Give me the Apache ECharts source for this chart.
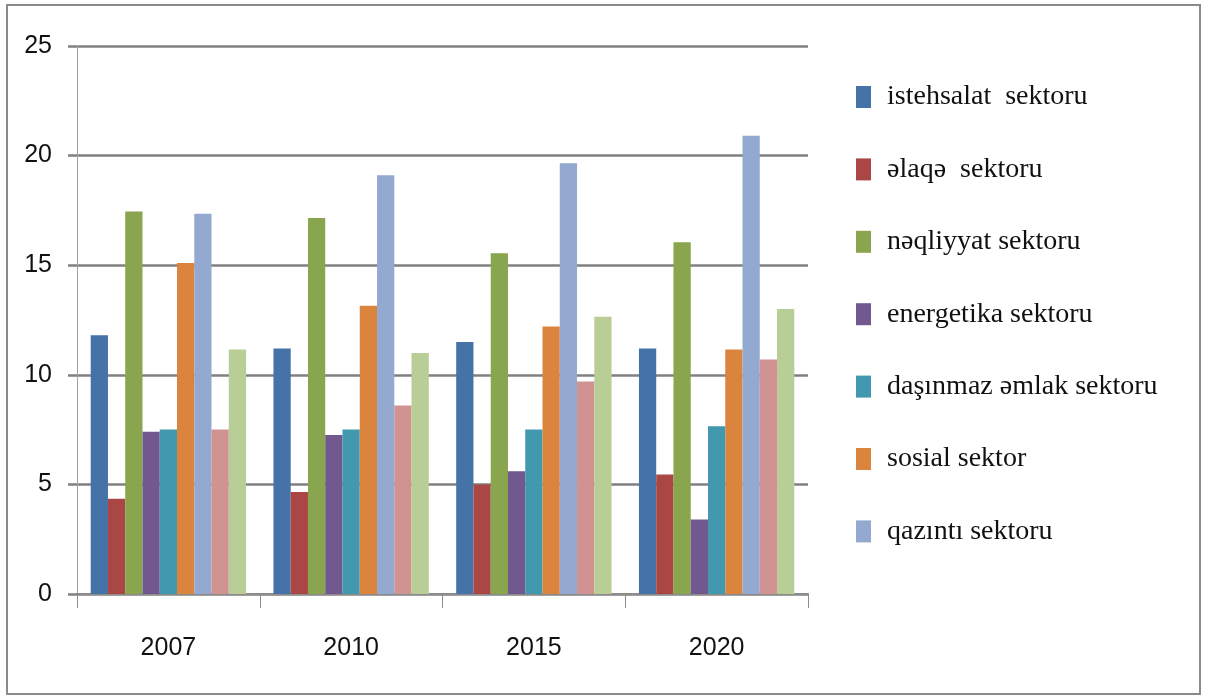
<!DOCTYPE html>
<html>
<head>
<meta charset="utf-8">
<script src="https://cdn.jsdelivr.net/npm/echarts@6/dist/echarts.min.js"></script>
<style>html,body{margin:0;padding:0;background:#fff;}#c{width:1208px;height:696px;}</style>
</head>
<body>
<div id="c"></div>
<script>
const years = ['2007', '2010', '2015', '2020'];
const seriesNames = ['istehsalat  sektoru', 'əlaqə  sektoru', 'nəqliyyat sektoru', 'energetika sektoru', 'daşınmaz əmlak sektoru', 'sosial sektor', 'qazıntı sektoru', 'seriya 8', 'seriya 9'];
const legendNames = ['istehsalat  sektoru', 'əlaqə  sektoru', 'nəqliyyat sektoru', 'energetika sektoru', 'daşınmaz əmlak sektoru', 'sosial sektor', 'qazıntı sektoru'];
const istehsalat = [11.8, 11.2, 11.5, 11.2];
const elaqe = [4.35, 4.65, 5.0, 5.45];
const neqliyyat = [17.45, 17.15, 15.55, 16.05];
const energetika = [7.4, 7.25, 5.6, 3.4];
const dasinmaz = [7.5, 7.5, 7.5, 7.65];
const sosial = [15.1, 13.15, 12.2, 11.15];
const qazinti = [17.35, 19.1, 19.65, 20.9];
const seriya8 = [7.5, 8.6, 9.7, 10.7];
const seriya9 = [11.15, 11.0, 12.65, 13.0];
const yTicks = [0, 5, 10, 15, 20, 25];
const colors = ['#4572A7', '#AA4643', '#89A54E', '#71588F', '#4198AF', '#DB843D', '#93A9CF', '#D19392', '#B9CD96'];
const allValues = [istehsalat, elaqe, neqliyyat, energetika, dasinmaz, sosial, qazinti, seriya8, seriya9];

const axisFont = "'Liberation Sans', Arial, sans-serif";
const chart = echarts.init(document.getElementById('c'), null, {renderer: 'canvas'});
const series = seriesNames.map((n, i) => ({
  name: n,
  type: 'bar',
  data: allValues[i],
  barGap: '0%',
  barCategoryGap: '15%',
  itemStyle: {color: colors[i]}
}));
chart.setOption({
  backgroundColor: '#ffffff',
  animation: false,
  color: colors,
  graphic: [{
    type: 'rect',
    shape: {x: 7, y: 5, width: 1193, height: 689},
    style: {fill: 'none', stroke: '#8a8a8a', lineWidth: 2},
    z: 100
  }],
  grid: {left: 77, right: 400, top: 46, bottom: 102, containLabel: false},
  legend: {
    data: legendNames,
    orient: 'vertical',
    left: 851,
    top: 78,
    itemWidth: 15,
    itemHeight: 22,
    itemGap: 44.4,
    icon: 'rect',
    textStyle: {fontFamily: "'Liberation Serif', 'Times New Roman', serif", fontSize: 28, color: '#111', padding: [0, 0, 0, 11]}
  },
  xAxis: {
    type: 'category',
    data: years,
    axisLine: {lineStyle: {color: '#8c8c8c', width: 2}},
    axisTick: {show: true, length: 14, lineStyle: {color: '#8c8c8c', width: 1}},
    axisLabel: {margin: 42, fontFamily: axisFont, fontSize: 25, color: '#111'}
  },
  yAxis: {
    type: 'value',
    min: yTicks[0],
    max: yTicks[yTicks.length - 1],
    interval: 5,
    axisLine: {show: true, lineStyle: {color: '#a0a0a0', width: 1}},
    axisTick: {show: true, length: 9, lineStyle: {color: '#808080', width: 2.5}},
    splitLine: {show: true, lineStyle: {color: '#808080', width: 2.5}},
    axisLabel: {margin: 25, fontFamily: axisFont, fontSize: 25, color: '#111', padding: [4, 0, 0, 0]}
  },
  series: series
});
</script>
</body>
</html>
